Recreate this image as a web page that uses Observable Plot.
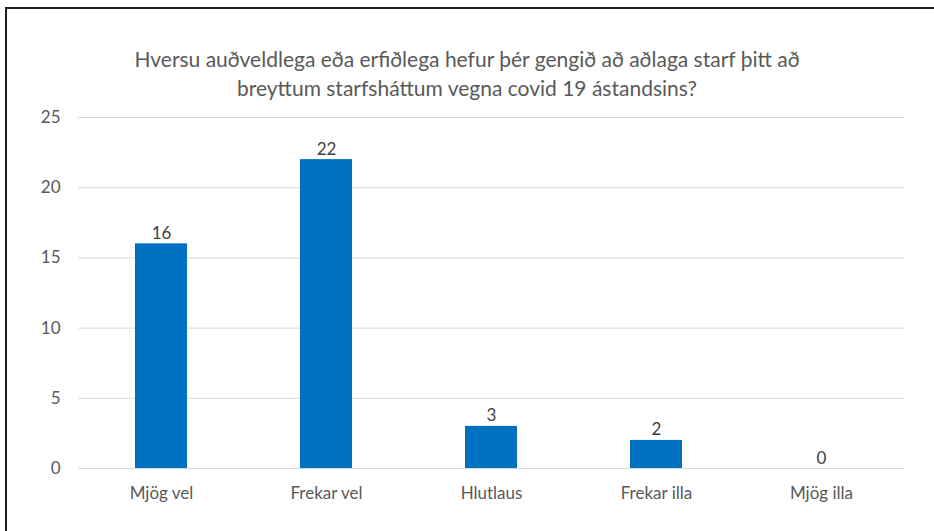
<!DOCTYPE html>
<html>
<head>
<meta charset="utf-8">
<script src="https://cdn.jsdelivr.net/npm/d3@7"></script>
<script src="https://cdn.jsdelivr.net/npm/@observablehq/plot@0.6"></script>
<style>
  html, body { margin: 0; padding: 0; background: #fff; }
  #wrap { position: relative; width: 934px; height: 531px; overflow: hidden; font-family: Lato, "Open Sans", sans-serif; }
  #frame { position: absolute; left: 5px; top: 7px; right: 0; bottom: 0; border-left: 2px solid #1e1e1e; border-top: 2px solid #1e1e1e; }
  #title { position: absolute; left: 0; top: 44px; width: 934px; text-align: center; color: #595959; font-size: 21px; line-height: 29px; }
  #chart { position: absolute; left: 0; top: 0; }
</style>
</head>
<body>
<div id="wrap">
  <div id="frame"></div>
  <div id="chart"></div>
  <div id="title">Hversu auðveldlega eða erfiðlega hefur þér gengið að aðlaga starf þitt að<br>breyttum starfsháttum vegna covid 19 ástandsins?</div>
</div>
<script>
const categories = ["Mjög vel", "Frekar vel", "Hlutlaus", "Frekar illa", "Mjög illa"];
const values = [16, 22, 3, 2, 0];
const yTicks = [0, 5, 10, 15, 20, 25];

const data = categories.map((c, i) => ({category: c, value: values[i]}));

const chart = Plot.plot({
  width: 934,
  height: 531,
  marginTop: 117,
  marginBottom: 63,
  marginLeft: 78,
  marginRight: 30,
  style: {fontFamily: "Lato, 'Open Sans', sans-serif", fontSize: "17px", color: "#595959", background: "transparent"},
  x: {domain: categories, paddingInner: 0.685, paddingOuter: 0.3425, label: null, tickSize: 0, tickPadding: 18},
  y: {domain: [0, 25], ticks: yTicks, label: null, tickSize: 0, tickPadding: 18},
  marks: [
    Plot.gridY(yTicks, {stroke: "#d9d9d9", strokeOpacity: 1}),
    Plot.barY(data, {x: "category", y: "value", fill: "#0070C0"}),
    Plot.text(data, {x: "category", y: "value", text: d => String(d.value), lineAnchor: "bottom", dy: -5, fill: "#404040", fontSize: 17})
  ]
});
document.getElementById("chart").appendChild(chart);
</script>
</body>
</html>
